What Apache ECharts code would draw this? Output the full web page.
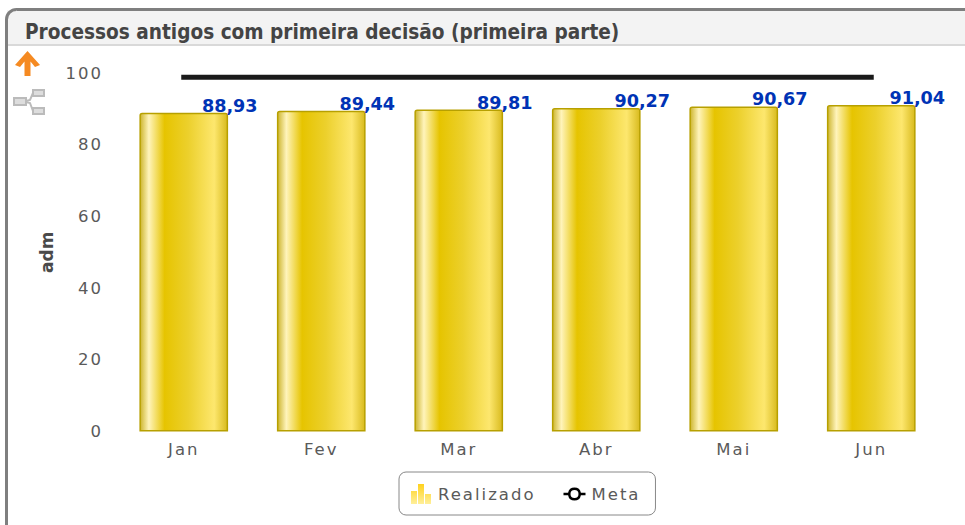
<!DOCTYPE html>
<html><head><meta charset="utf-8">
<style>
html,body{margin:0;padding:0;background:#fff}
#c{width:965px;height:525px}
#c svg text[fill="#5a5a5a"], #c svg text[style*="#5a5a5a"], #c svg text[style*="rgb(90, 90, 90)"]{letter-spacing:2px}
</style>
<script src="https://cdn.jsdelivr.net/npm/echarts@6/dist/echarts.min.js"></script>
</head><body><div id="c"></div>
<script>
var titleText = 'Processos antigos com primeira decisão (primeira parte)';
var categories = ['Jan','Fev','Mar','Abr','Mai','Jun'];
var realizado = [88.93,89.44,89.81,90.27,90.67,91.04];
var meta = [98.8,98.8,98.8,98.8,98.8,98.8];
var yTicks = {min:0,max:100,interval:20};
var spaced = '#5a5a5a';
var font = '"DejaVu Sans", Verdana, sans-serif';

var barFill = {type:'linear',x:0,y:0,x2:1,y2:0,colorStops:[
 {offset:0,color:'#cdb52e'},{offset:0.1,color:'#fff4bb'},{offset:0.28,color:'#e6c400'},
 {offset:0.55,color:'#ecd02c'},{offset:0.85,color:'#fde76e'},{offset:1,color:'#d9bb1e'}]};
var legendBar = {type:'linear',x:0,y:0,x2:0,y2:1,colorStops:[{offset:0,color:'#ffd21e'},{offset:1,color:'#ffef9a'}]};

var chart = echarts.init(document.getElementById('c'),null,{renderer:'svg'});
chart.setOption({
 animation:false,
 backgroundColor:'#fff',
 title:{text:titleText,left:25,top:21,padding:0,textStyle:{fontFamily:'"DejaVu Sans Condensed", "DejaVu Sans", sans-serif',fontSize:20.6,fontWeight:'bold',color:'#444'}},
 grid:{left:115,right:25,top:73,bottom:93.5},
 xAxis:{type:'category',data:categories,axisLine:{show:false},axisTick:{show:false},
  axisLabel:{color:spaced,fontFamily:font,fontSize:16.5,margin:9}},
 yAxis:{type:'value',min:yTicks.min,max:yTicks.max,interval:yTicks.interval,name:'adm',nameLocation:'middle',nameGap:59.5,
  nameTextStyle:{fontFamily:font,fontSize:17,fontWeight:'bold',color:'#4a4a4a'},
  axisLine:{show:false},axisTick:{show:false},splitLine:{show:false},
  axisLabel:{color:spaced,fontFamily:font,fontSize:16.5,margin:12,padding:[2,0,0,0]}},
 legend:{left:399,top:472,orient:'horizontal',padding:[12,23,11,12],itemGap:46,itemWidth:22,itemHeight:20,
  borderColor:'#888',borderWidth:1,borderRadius:7,backgroundColor:'#fff',
  textStyle:{color:spaced,fontFamily:font,fontSize:16.5,padding:[2,0,0,0]},
  data:[
   {name:'Realizado',icon:'path://M0 7H6V20H0ZM7 0H13V20H7ZM14 10H20V20H14ZM22 0L22 0.01L21.99 0Z',itemStyle:{color:legendBar,borderWidth:0}},
   {name:'Meta',icon:'path://M0 5.25H4.6A6.5 6.5 0 0 1 17.4 5.25H22V7.75H17.4A6.5 6.5 0 0 1 4.6 7.75H0ZM7 6.5A4 4 0 0 0 15 6.5A4 4 0 0 0 7 6.5ZM0 -3.5L0.01 -3.5L0 -3.49ZM0 16.5L0.01 16.5L0 16.49Z',itemStyle:{color:'#000',borderWidth:0},textStyle:{padding:[2,0,0,1]}}
  ]},
 series:[
  {name:'Realizado',type:'bar',data:realizado,barWidth:'64.5%',
   itemStyle:{color:barFill,borderColor:'#b7a000',borderWidth:1.5,borderRadius:[2,2,0,0]},
   label:{show:true,position:'top',distance:0,offset:[46,2],formatter:function(p){return p.value.toFixed(2).replace('.',',');},
    color:'#0033b5',fontFamily:font,fontSize:17.6,fontWeight:'bold'}},
  {name:'Meta',type:'line',data:meta,showSymbol:false,symbol:'none',
   lineStyle:{color:'#1a1a1a',width:5,cap:'square'},itemStyle:{color:'#000'}}
 ],
 graphic:[
  {type:'rect',silent:true,z:-1,shape:{x:7,y:10,width:958,height:36},style:{fill:'#f3f3f3'}},
  {type:'rect',silent:true,z:-1,shape:{x:7,y:44,width:958,height:2},style:{fill:'#d9d9d9'}},
  {type:'rect',silent:true,z:-1,shape:{x:6.5,y:9.5,width:1100,height:700,r:10},style:{fill:'none',stroke:'#7f7f7f',lineWidth:3}},
  {type:'polygon',silent:true,shape:{points:[[27.5,51],[40,65],[35,67],[30.5,61.5],[30.5,76],[24.5,76],[24.5,61.5],[20,67],[15,65]]},style:{fill:'#f58a22'}},
  {type:'group',silent:true,children:[
   {type:'rect',shape:{x:14,y:98,width:12,height:7},style:{fill:'#ddd',stroke:'#bbb',lineWidth:2}},
   {type:'rect',shape:{x:33,y:90,width:11,height:6},style:{fill:'#ddd',stroke:'#bbb',lineWidth:2}},
   {type:'rect',shape:{x:33,y:108,width:11,height:6},style:{fill:'#ddd',stroke:'#bbb',lineWidth:2}},
   {type:'polyline',shape:{points:[[26,101],[30,100],[33,93]]},style:{fill:'none',stroke:'#bbb',lineWidth:2}},
   {type:'polyline',shape:{points:[[26,102],[30,103],[33,111]]},style:{fill:'none',stroke:'#bbb',lineWidth:2}}
  ]}
 ]
});
</script></body></html>
